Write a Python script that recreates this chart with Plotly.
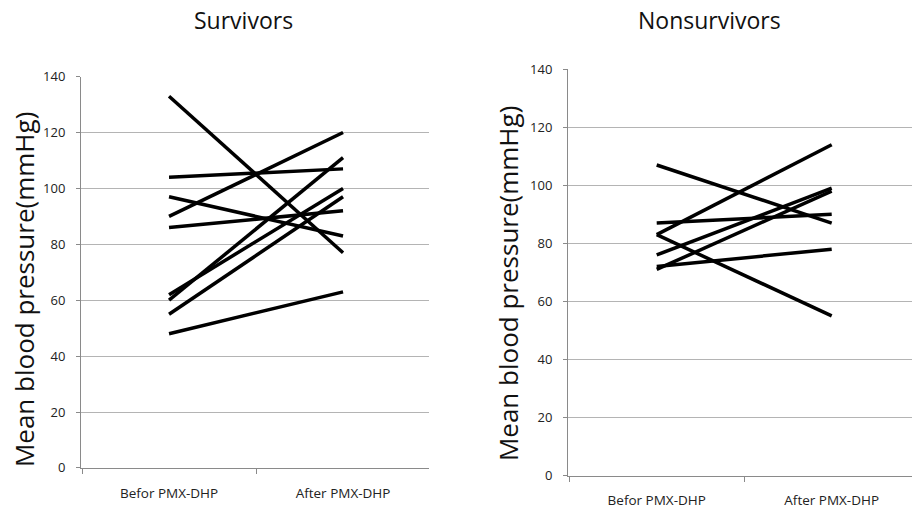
import plotly.graph_objects as go

categories = ["Befor PMX-DHP", "After PMX-DHP"]

survivors_before = [133, 104, 97, 90, 86, 62, 60, 55, 48]
survivors_after = [77, 107, 83, 120, 92, 100, 111, 97, 63]

nonsurvivors_before = [107, 87, 83, 83, 76, 71, 72]
nonsurvivors_after = [87, 90, 114, 55, 99, 98, 78]

y_ticks = [0, 20, 40, 60, 80, 100, 120, 140]

W, H = 912, 509
FONT = "Open Sans"

fig = go.Figure()

for b, a in zip(survivors_before, survivors_after):
    fig.add_trace(go.Scatter(x=categories, y=[b, a], mode="lines",
                             line=dict(color="#000000", width=3.5),
                             xaxis="x", yaxis="y", showlegend=False, hoverinfo="y"))
for b, a in zip(nonsurvivors_before, nonsurvivors_after):
    fig.add_trace(go.Scatter(x=categories, y=[b, a], mode="lines",
                             line=dict(color="#000000", width=3.5),
                             xaxis="x2", yaxis="y2", showlegend=False, hoverinfo="y"))

def px_x(p):
    return p / W

def px_y(p):
    # vertical position in layout pixels, converted to paper fraction
    return 1 - ((p - 8.1) / 0.964) / H

xcommon = dict(type="category", showgrid=False, showline=True, linecolor="#8a8a8a",
               linewidth=1, ticks="outside", tickson="boundaries", ticklen=5,
               tickcolor="#8a8a8a",
               tickfont=dict(family=FONT, size=13.5, color="#222"), zeroline=False,
               fixedrange=True)
ycommon = dict(range=[0, 140], tickvals=y_ticks, showgrid=True, gridcolor="#b4b4b4",
               gridwidth=1, showline=True, linecolor="#8a8a8a",
               linewidth=1, ticks="outside", ticklen=4, tickcolor="#8a8a8a",
               ticklabelstandoff=8,
               tickfont=dict(family=FONT, size=13, color="#222"), zeroline=False,
               fixedrange=True)

fig.update_layout(
    width=W, height=H,
    margin=dict(l=0, r=0, t=0, b=0),
    paper_bgcolor="white", plot_bgcolor="white",
    xaxis=dict(domain=[px_x(81), px_x(429)], range=[-0.506, 1.494], anchor="y",
               ticklabelstandoff=13, **xcommon),
    yaxis=dict(domain=[px_y(466.7), px_y(75.7)], anchor="x", **ycommon),
    xaxis2=dict(domain=[px_x(568), 1.0], range=[-0.507, 1.459], anchor="y2",
                ticklabelstandoff=12, **xcommon),
    yaxis2=dict(domain=[px_y(474.3), px_y(68.3)], anchor="x2", **ycommon),
    annotations=[
        dict(text="Survivors", x=px_x(243), y=px_y(19), xref="paper", yref="paper",
             showarrow=False, font=dict(family=FONT, size=23, color="#111"),
             xanchor="center", yanchor="middle"),
        dict(text="Nonsurvivors", x=px_x(709), y=px_y(19), xref="paper", yref="paper",
             showarrow=False, font=dict(family=FONT, size=23, color="#111"),
             xanchor="center", yanchor="middle"),
        dict(text="Mean blood pressure(mmHg)", x=px_x(24), y=px_y(289), xref="paper",
             yref="paper", showarrow=False, textangle=-90,
             font=dict(family=FONT, size=26, color="#111"),
             xanchor="center", yanchor="middle"),
        dict(text="Mean blood pressure(mmHg)", x=px_x(508), y=px_y(282), xref="paper",
             yref="paper", showarrow=False, textangle=-90,
             font=dict(family=FONT, size=26, color="#111"),
             xanchor="center", yanchor="middle"),
    ],
)

fig.write_html(
    "out.html",
    config={"displayModeBar": False},
    post_script=(
        "document.body.style.margin='0';"
        "document.body.style.overflow='hidden';"
    ),
)
